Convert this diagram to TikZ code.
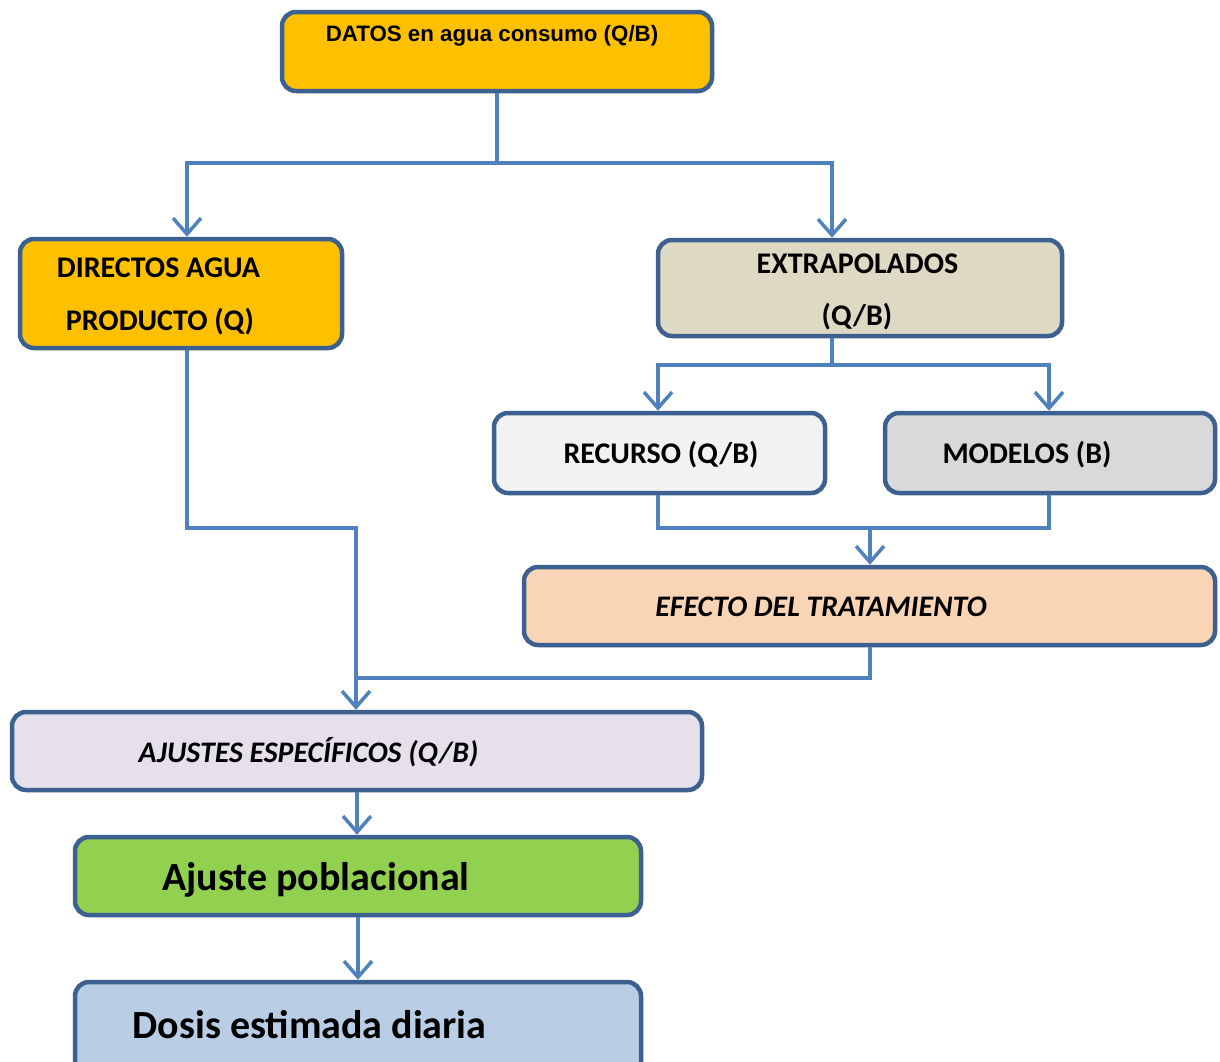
\documentclass[tikz,border=0pt]{standalone}
\usepackage{fontspec}
\setmainfont{Carlito}
\newfontfamily\arialf{Liberation Sans}
\usetikzlibrary{arrows.meta}
\definecolor{bord}{HTML}{3C6090}
\definecolor{conn}{HTML}{4F81BD}
\definecolor{cgold}{HTML}{FFC000}
\definecolor{cbeige}{HTML}{DDD9C3}
\definecolor{clight}{HTML}{F2F2F2}
\definecolor{cgray}{HTML}{D9D9D9}
\definecolor{cpeach}{HTML}{FAD5B5}
\definecolor{clav}{HTML}{E5E0EC}
\definecolor{cgreen}{HTML}{92D050}
\definecolor{cblue}{HTML}{B9CDE5}
\begin{document}
\begin{tikzpicture}[x=1pt,y=-1pt,
  box/.style={draw=bord, line width=4.5pt, rounded corners=14pt, inner sep=0pt},
  lbl/.style={inner sep=0pt, text=black},
  conline/.style={draw=conn, line width=3.5pt},
  arr/.style={conline, -{Straight Barb[length=16pt,width=28pt]}}]
\useasboundingbox (0,0) rectangle (1220,1061);
\fill[white] (0,0) rectangle (1220,1061);
\clip (0,0) rectangle (1220,1061);
% boxes
\node[box, fill=cgold, minimum width=430pt, minimum height=79pt] (datos) at (497,51.5) {};
\node[box, fill=cgold, minimum width=322pt, minimum height=109pt] (directos) at (181,293.5) {};
\node[box, fill=cbeige, minimum width=404pt, minimum height=96pt] (extra) at (860,288) {};
\node[box, fill=clight, minimum width=331pt, minimum height=80pt] (recurso) at (659.5,453) {};
\node[box, fill=cgray, minimum width=330pt, minimum height=80pt] (modelos) at (1050,453) {};
\node[box, fill=cpeach, minimum width=691pt, minimum height=78pt] (efecto) at (869.5,606) {};
\node[box, fill=clav, minimum width=690pt, minimum height=78pt] (ajustes) at (357,751) {};
\node[box, fill=cgreen, minimum width=566pt, minimum height=78pt] (pob) at (358,876) {};
\node[box, fill=cblue, minimum width=566pt, minimum height=95pt] (dosis) at (358,1029.5) {};
% labels
\node[lbl, font=\arialf\bfseries\fontsize{22.3}{26}\selectfont] (t1) at (492,36) {DATOS en agua consumo (Q/B)};
\node[lbl, font=\bfseries\fontsize{30}{35}\selectfont] (t2a) at (158.5,268) {DIRECTOS AGUA};
\node[lbl, font=\bfseries\fontsize{30}{35}\selectfont] (t2b) at (160,322) {PRODUCTO (Q)};
\node[lbl, font=\bfseries\fontsize{30}{35}\selectfont] (t3a) at (857.5,264) {EXTRAPOLADOS};
\node[lbl, font=\bfseries\fontsize{30}{35}\selectfont] (t3b) at (857,317) {(Q/B)};
\node[lbl, font=\bfseries\fontsize{30}{35}\selectfont] (t4) at (661,455) {RECURSO (Q/B)};
\node[lbl, font=\bfseries\fontsize{30}{35}\selectfont] (t5) at (1027,455) {MODELOS (B)};
\node[lbl, font=\bfseries\itshape\fontsize{29.8}{35}\selectfont] (t6) at (821,607) {EFECTO DEL TRATAMIENTO};
\node[lbl, font=\bfseries\itshape\fontsize{29.8}{35}\selectfont] (t7) at (308.5,752) {AJUSTES ESPECÍFICOS (Q/B)};
\node[lbl, font=\bfseries\fontsize{40}{47}\selectfont] (t8) at (316,880) {Ajuste poblacional};
\node[lbl, font=\bfseries\fontsize{40}{47}\selectfont] (t9) at (309.5,1025) {Dosis estimada diaria};
% connectors
\coordinate (j1) at (497,163);
\coordinate (j2) at (832,365);
\coordinate (j3) at (870,528);
\coordinate (j4) at (356,678);
\coordinate (j5) at (356,528);
\draw[conline] (datos.south) -- (j1);
\draw[arr] (j1) -| ([xshift=6pt]directos.north);
\draw[arr] (j1) -| ([xshift=-28pt]extra.north);
\draw[conline] ([xshift=-28pt]extra.south) -- (j2);
\draw[arr] (j2) -| ([xshift=-1.5pt]recurso.north);
\draw[arr] (j2) -| ([xshift=-1pt]modelos.north);
\draw[conline] ([xshift=-1.5pt]recurso.south) |- (j3) -| ([xshift=-1pt]modelos.south);
\draw[arr] (j3) -- (j3 |- efecto.north);
\draw[arr] ([xshift=6pt]directos.south) |- (j5) -- (j5 |- ajustes.north);
\draw[conline] (j3 |- efecto.south) |- (j4);
\draw[arr] (ajustes.south) -- (ajustes.south |- pob.north);
\draw[arr] (pob.south) -- (dosis.north);
\end{tikzpicture}
\end{document}
